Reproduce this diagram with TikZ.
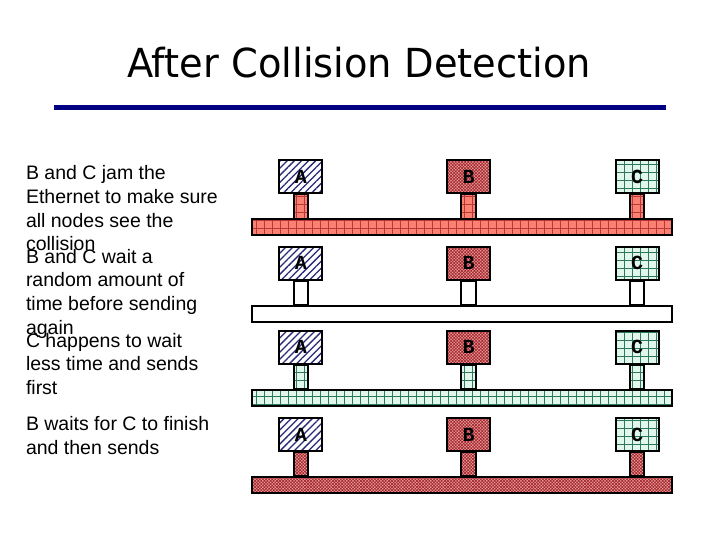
\documentclass[tikz,border=0pt]{standalone}
\usepackage{fontspec}
\setmainfont{Liberation Sans}
\newfontfamily\titlefont{DejaVu Sans}
\newfontfamily\boxfont{Liberation Mono}
\usetikzlibrary{patterns.meta}
\begin{document}
\begin{tikzpicture}[x=1pt,y=1pt,
  station/.style={draw=black,line width=2pt,minimum width=43pt,minimum height=33pt,
    inner sep=0pt,font=\boxfont\bfseries\fontsize{20}{20}\selectfont},
  stationA/.style={station,preaction={fill=white},pattern={Lines[angle=45,distance=5pt,line width=1.3pt]},pattern color=stripeColor},
  stationB/.style={station,preaction={fill=checkFill},pattern={Hatch[angle=45,distance=2.2pt,line width=0.7pt]},pattern color=checkLine},
  stationC/.style={station,preaction={fill=mintFill},pattern={Hatch[angle=0,distance=8pt,line width=0.6pt]},pattern color=mintLine},
  bus/.style={draw=black,line width=2pt,minimum width=420pt,minimum height=16pt,inner sep=0pt},
  jam/.style={preaction={fill=salmonFill},pattern={Hatch[angle=0,distance=8pt,line width=0.6pt]},pattern color=salmonLine},
  idle/.style={fill=white},
  cgrid/.style={preaction={fill=mintFill},pattern={Hatch[angle=0,distance=8pt,line width=0.6pt]},pattern color=mintLine},
  bsend/.style={preaction={fill=checkFill},pattern={Hatch[angle=45,distance=2.2pt,line width=0.7pt]},pattern color=checkLine},
  note/.style={anchor=base west,align=left,inner sep=0pt,outer sep=0pt,font=\fontsize{19.5}{23.6}\selectfont}]
\definecolor{fillColor}{RGB}{255,255,255}
\definecolor{ruleColor}{RGB}{0,0,128}
\definecolor{stripeColor}{RGB}{40,40,120}
\definecolor{checkFill}{RGB}{235,165,165}
\definecolor{checkLine}{RGB}{165,40,45}
\definecolor{mintFill}{RGB}{225,246,236}
\definecolor{mintLine}{RGB}{45,120,90}
\definecolor{salmonFill}{RGB}{250,128,114}
\definecolor{salmonLine}{RGB}{185,55,55}
\path[use as bounding box,fill=fillColor] (0,0) rectangle (720,540);

% title and rule
\node[inner sep=0pt,anchor=base,xscale=0.96,font=\titlefont\fontsize{40}{40}\selectfont] (title) at (359,462) {After Collision Detection};
\fill[ruleColor] (54,429.5) rectangle (666,435);

% notes (anchored at the baseline of the last line)
\node[note] (note1) at (26,289.2) {B and C jam the\\Ethernet to make sure\\all nodes see the\\collision};
\node[note] (note2) at (26,205.9) {B and C wait a\\random amount of\\time before sending\\again};
\node[note] (note3) at (26,145.5) {C happens to wait\\less time and sends\\first};
\node[note] (note4) at (26,85.7) {B waits for C to finish\\and then sends};

% row 1: jam
\node[bus,jam] (bus1) at (462,312.5) {};
\node[stationA] (A1) at (300.8,363) {A};
\node[stationB] (B1) at (468.7,363) {B};
\node[stationC] (C1) at (637,363) {C};
\foreach \s in {A1,B1,C1}
  \path[draw=black,line width=2pt,jam] ([xshift=-7.3pt]\s.south) rectangle ([xshift=7.3pt]\s.south |- bus1.north);

% row 2: wait
\node[bus,idle] (bus2) at (462,226) {};
\node[stationA] (A2) at (300.8,276.7) {A};
\node[stationB] (B2) at (468.7,276.7) {B};
\node[stationC] (C2) at (637,276.7) {C};
\foreach \s in {A2,B2,C2}
  \path[draw=black,line width=2pt,idle] ([xshift=-7.3pt]\s.south) rectangle ([xshift=7.3pt]\s.south |- bus2.north);

% row 3: C sends
\node[bus,cgrid] (bus3) at (462,142) {};
\node[stationA] (A3) at (300.8,192.7) {A};
\node[stationB] (B3) at (468.7,192.7) {B};
\node[stationC] (C3) at (637,192.7) {C};
\foreach \s in {A3,B3,C3}
  \path[draw=black,line width=2pt,cgrid] ([xshift=-7.3pt]\s.south) rectangle ([xshift=7.3pt]\s.south |- bus3.north);

% row 4: B sends
\node[bus,bsend] (bus4) at (462,55) {};
\node[stationA] (A4) at (300.8,105) {A};
\node[stationB] (B4) at (468.7,105) {B};
\node[stationC] (C4) at (637,105) {C};
\foreach \s in {A4,B4,C4}
  \path[draw=black,line width=2pt,bsend] ([xshift=-7.3pt]\s.south) rectangle ([xshift=7.3pt]\s.south |- bus4.north);
\end{tikzpicture}
\end{document}
